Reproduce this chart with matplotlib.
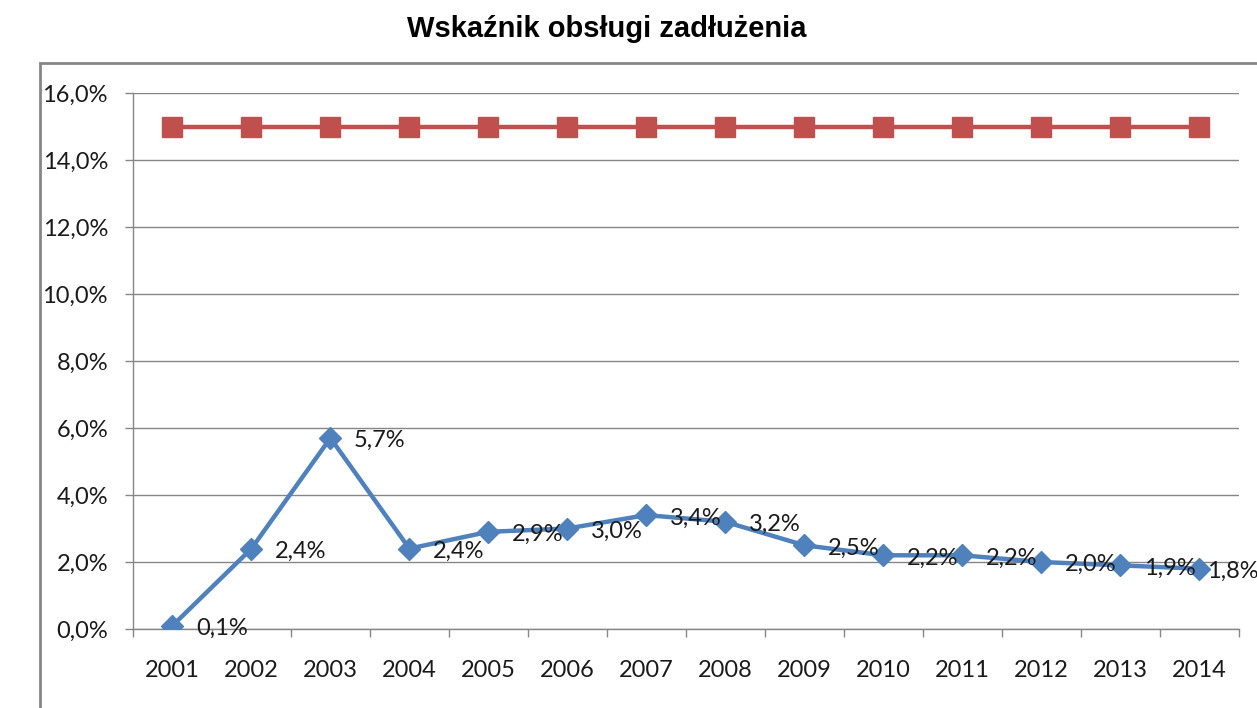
import numpy as np
import matplotlib
matplotlib.use("Agg")
import matplotlib.pyplot as plt
from matplotlib.patches import Rectangle
from matplotlib.ticker import FuncFormatter, MultipleLocator, FixedLocator

# data
years = ["2001", "2002", "2003", "2004", "2005", "2006", "2007",
         "2008", "2009", "2010", "2011", "2012", "2013", "2014"]
wskaznik = [0.1, 2.4, 5.7, 2.4, 2.9, 3.0, 3.4, 3.2, 2.5, 2.2, 2.2, 2.0, 1.9, 1.8]
limit = [15.0] * len(years)

BLUE = "#4F81BD"
RED = "#C0504D"
GRID = "#868686"

plt.rcParams['font.family'] = ['Lato', 'DejaVu Sans']

fig = plt.figure(figsize=(12.57, 7.08), dpi=100)
ax = fig.add_axes([133 / 1257, 1 - 629 / 708, (1238.5 - 133) / 1257, (629 - 93) / 708])

# outer chart border (cut off at right and bottom like the original)
fig.patches.append(Rectangle((40 / 1257, -0.1), 1.2, (708 - 63) / 708 + 0.1,
                             transform=fig.transFigure, fill=False,
                             edgecolor=GRID, linewidth=2, zorder=0))

x = np.arange(len(years))
ax.plot(x, limit, color=RED, linewidth=3.2, marker="s", markersize=14, zorder=3)
ax.plot(x, wskaznik, color=BLUE, linewidth=3.2, marker="D", markersize=11, zorder=4)

for i, (xi, v) in enumerate(zip(x, wskaznik)):
    # last label is pushed in towards the point, as in the original
    dx = 6 if i == len(x) - 1 else 17
    ax.annotate(f"{v:.1f}%".replace(".", ","), (xi, v), xytext=(dx, -2),
                textcoords="offset points", ha="left", va="center",
                fontsize=17, color="#1a1a1a", zorder=5)

ax.set_xlim(-0.5, len(years) - 0.5)
ax.set_ylim(0, 16)
ax.yaxis.set_major_locator(MultipleLocator(2))
ax.yaxis.set_major_formatter(FuncFormatter(lambda v, p: f"{v:.1f}%".replace(".", ",")))
ax.grid(axis="y", color=GRID, linewidth=1)
ax.set_axisbelow(True)

ax.set_xticks(x)
ax.set_xticklabels(years)
ax.xaxis.set_minor_locator(FixedLocator(np.arange(-0.5, len(years), 1.0)))
ax.tick_params(axis="x", which="major", length=0, pad=22, labelsize=17, labelcolor="#1a1a1a")
ax.tick_params(axis="x", which="minor", length=6, width=1, color=GRID, direction="out")
ax.tick_params(axis="y", length=6, width=1, color=GRID, pad=12, labelsize=17, labelcolor="#1a1a1a")

for side in ["top", "right"]:
    ax.spines[side].set_visible(False)
for side in ["left", "bottom"]:
    ax.spines[side].set_color(GRID)
    ax.spines[side].set_linewidth(1)

fig.text(607 / 1257, 1 - 29 / 708, "Wskaźnik obsługi zadłużenia", ha="center", va="center",
         fontsize=21, fontweight="bold", family=["Liberation Sans", "DejaVu Sans"])

fig.savefig("out.png", dpi=100)
